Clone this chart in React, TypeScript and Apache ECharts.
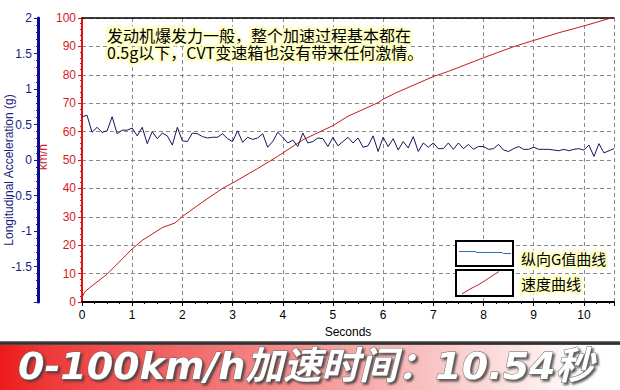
import React, { useEffect, useRef } from "react";
import * as echarts from "echarts";

// G samples every 0.1 s, starting at 0 s (unit: g)
const SAMPLE_STEP = 0.1;
const gValues = [
  0.61, 0.63, 0.39, 0.46, 0.39, 0.41, 0.61, 0.37, 0.42, 0.42,
  0.45, 0.34, 0.46, 0.23, 0.4, 0.3, 0.38, 0.34, 0.21, 0.46,
  0.27, 0.26, 0.38, 0.37, 0.33, 0.31, 0.32, 0.32, 0.37, 0.3,
  0.26, 0.41, 0.25, 0.32, 0.29, 0.31, 0.37, 0.18, 0.26, 0.39,
  0.32, 0.24, 0.28, 0.19, 0.38, 0.24, 0.26, 0.31, 0.3, 0.19,
  0.32, 0.2, 0.26, 0.32, 0.24, 0.31, 0.18, 0.2, 0.34, 0.12,
  0.32, 0.19, 0.3, 0.14, 0.26, 0.17, 0.33, 0.12, 0.24, 0.18,
  0.24, 0.16, 0.16, 0.24, 0.15, 0.24, 0.16, 0.22, 0.15, 0.19,
  0.19, 0.15, 0.16, 0.22, 0.14, 0.12, 0.16, 0.19, 0.15, 0.15,
  0.18, 0.15, 0.15, 0.15, 0.14, 0.13, 0.15, 0.13, 0.15, 0.16,
  0.14, 0.21, 0.05, 0.23, 0.1, 0.13, 0.16,
];

// Speed curve (seconds, km/h)
const speedTimes = [
  0, 0.05, 0.15, 0.5, 1.0, 1.2, 1.6, 1.85, 2.0, 2.4, 2.8, 3.0, 3.5, 3.9, 4.4,
  5.0, 5.3, 5.9, 6.0, 6.25, 7.0, 7.3, 8.0, 8.6, 9.0, 9.5, 10.0, 10.54,
];
const speedValues = [
  1.5, 3.5, 5.0, 9.8, 18.7, 21.7, 26.2, 27.8, 30.1, 35.2, 40.0, 41.9, 47.0,
  51.3, 57.1, 62.1, 65.4, 70.2, 71.4, 73.6, 79.4, 81.2, 86.0, 89.9, 92.1, 94.8,
  97.2, 100,
];

const xMax = 10.6;
const annotationLines = [
  "发动机爆发力一般，整个加速过程基本都在",
  "0.5g以下，CVT变速箱也没有带来任何激情。",
];
const legendLabels = ["纵向G值曲线", "速度曲线"];
const bannerText = "0-100km/h加速时间：10.54秒";
const xName = "Seconds";
const gAxisName = "Longitudinal Acceleration (g)";
const speedAxisName = "km/h";

const RED = "#d41c1c";
const NAVY = "#1c1c80";
const GRID_C = "#8a8a8a";
const LATIN = "'Liberation Sans', Arial, sans-serif";
const CJK = "'Noto Sans CJK SC', sans-serif";

export default function App() {
  const ref = useRef<HTMLDivElement>(null);

  useEffect(() => {
    if (!ref.current) return;
    const chart = echarts.init(ref.current, null, { renderer: "svg" });

    const gData = gValues.map((v, i) => [+(i * SAMPLE_STEP).toFixed(2), v]);
    const sData = speedTimes.map((t, i) => [t, speedValues[i]]);

    const glow = {
      stroke: "rgba(255,255,195,0.95)",
      lineWidth: 5,
      strokeFirst: true,
    };

    chart.setOption({
      animation: false,
      backgroundColor: "#fff",
      grid: { left: 82, right: 6, top: 18, bottom: 88, containLabel: false },
      xAxis: [
        {
          type: "value",
          min: 0,
          max: xMax,
          interval: 1,
          name: xName,
          nameLocation: "middle",
          nameGap: 24,
          nameTextStyle: { color: "#000", fontSize: 12, fontFamily: LATIN },
          axisLine: { show: true, onZero: false, lineStyle: { color: "#000", width: 2 } },
          axisTick: { show: true, length: 4, lineStyle: { color: "#000" } },
          minorTick: { show: true, splitNumber: 4, length: 2, lineStyle: { color: "#000" } },
          axisLabel: {
            color: "#000",
            fontSize: 12,
            fontFamily: LATIN,
            margin: 7,
            formatter: (v: number) => (Number.isInteger(v) ? String(v) : ""),
          },
          splitLine: { show: true, lineStyle: { color: GRID_C, type: [4, 3], width: 1 } },
        },
        {
          type: "value",
          position: "top",
          min: 0,
          max: xMax,
          interval: 1,
          axisLine: { show: true, onZero: false, lineStyle: { color: "#000", width: 1.5 } },
          axisTick: { show: false },
          axisLabel: { show: false },
          splitLine: { show: false },
        },
      ],
      yAxis: [
        {
          type: "value",
          min: 0,
          max: 100,
          interval: 10,
          position: "left",
          axisLine: { show: true, onZero: false, lineStyle: { color: "#e01414", width: 2 } },
          axisTick: { show: true, length: 4, lineStyle: { color: "#e01414" } },
          minorTick: { show: true, splitNumber: 5, length: 2, lineStyle: { color: "#e01414" } },
          axisLabel: { color: RED, fontSize: 12, fontFamily: LATIN, margin: 6 },
          splitLine: { show: true, lineStyle: { color: GRID_C, type: [4, 3], width: 1 } },
        },
        {
          type: "value",
          min: -2,
          max: 2,
          interval: 0.5,
          position: "left",
          offset: 44,
          axisLine: { show: true, onZero: false, lineStyle: { color: "#0a0a90", width: 3 } },
          axisTick: { show: true, length: 4, lineStyle: { color: NAVY } },
          minorTick: { show: true, splitNumber: 5, length: 2, lineStyle: { color: NAVY } },
          axisLabel: {
            color: NAVY,
            fontSize: 12,
            fontFamily: LATIN,
            margin: 6,
            formatter: (v: number) => (v === -2 ? "" : String(v)),
          },
          splitLine: { show: false },
        },
      ],
      series: [
        {
          type: "line",
          name: legendLabels[1],
          xAxisIndex: 0,
          yAxisIndex: 0,
          data: sData,
          showSymbol: false,
          symbol: "none",
          lineStyle: { color: "#c41a1a", width: 1 },
          z: 3,
        },
        {
          type: "line",
          name: legendLabels[0],
          xAxisIndex: 0,
          yAxisIndex: 1,
          data: gData,
          showSymbol: false,
          symbol: "none",
          lineStyle: { color: "#14145e", width: 1 },
          z: 4,
        },
      ],
      graphic: [
        {
          type: "text",
          rotation: Math.PI / 2,
          x: 3,
          y: 170,
          style: {
            text: gAxisName,
            fill: NAVY,
            font: `12px ${LATIN}`,
            align: "center",
            verticalAlign: "top",
          },
        },
        {
          type: "text",
          rotation: Math.PI / 2,
          x: 37,
          y: 157,
          style: {
            text: speedAxisName,
            fill: RED,
            font: `12px ${LATIN}`,
            align: "center",
            verticalAlign: "top",
          },
        },
        {
          type: "text",
          x: 107,
          y: 35,
          z: 10,
          style: {
            text: annotationLines[0],
            fill: "#000",
            font: `16px ${CJK}`,
            lineHeight: 16,
            verticalAlign: "middle",
            ...glow,
          },
        },
        {
          type: "text",
          x: 107,
          y: 52,
          z: 10,
          style: {
            text: annotationLines[1],
            fill: "#000",
            font: `16px ${CJK}`,
            lineHeight: 16,
            verticalAlign: "middle",
            ...glow,
          },
        },
        {
          type: "rect",
          shape: { x: 456, y: 241, width: 57, height: 25 },
          style: { fill: "#fff", stroke: "#000", lineWidth: 2 },
          z: 10,
        },
        {
          type: "polyline",
          shape: {
            points: [
              [459, 251.5], [475, 251.5], [477, 252.5], [502, 252.5], [503.5, 253.5], [511, 253.5],
            ],
          },
          style: { stroke: "#2870b8", lineWidth: 1, fill: null },
          z: 11,
        },
        {
          type: "rect",
          shape: { x: 456, y: 270, width: 57, height: 26 },
          style: { fill: "#fff", stroke: "#000", lineWidth: 2 },
          z: 10,
        },
        {
          type: "polyline",
          shape: {
            points: [
              [462, 294], [470, 289], [478, 285], [486, 280], [492, 276], [499, 271.5],
            ],
          },
          style: { stroke: "#c0202a", lineWidth: 1, fill: null },
          z: 11,
        },
        {
          type: "text",
          x: 521,
          y: 258,
          z: 10,
          style: {
            text: legendLabels[0],
            fill: "#000",
            font: `15px ${CJK}`,
            verticalAlign: "middle",
            ...glow,
          },
        },
        {
          type: "text",
          x: 521,
          y: 283,
          z: 10,
          style: {
            text: legendLabels[1],
            fill: "#000",
            font: `15px ${CJK}`,
            verticalAlign: "middle",
            ...glow,
          },
        },
        {
          type: "rect",
          shape: { x: 0, y: 344, width: 620, height: 46 },
          style: {
            fill: new echarts.graphic.LinearGradient(0, 0, 1, 0, [
              { offset: 0, color: "#ec1a1a" },
              { offset: 0.08, color: "#ef3a3a" },
              { offset: 0.45, color: "#f48a8a" },
              { offset: 0.75, color: "#fad0d0" },
              { offset: 0.95, color: "#ffffff" },
              { offset: 1, color: "#ffffff" },
            ]),
          },
          z: 5,
        },
        {
          type: "rect",
          shape: { x: 0, y: 341, width: 620, height: 4 },
          style: {
            fill: new echarts.graphic.LinearGradient(0, 0, 0, 1, [
              { offset: 0, color: "#888" },
              { offset: 0.5, color: "#222" },
              { offset: 1, color: "#555" },
            ]),
          },
          z: 6,
        },
        {
          type: "text",
          x: 18,
          y: 366,
          z: 7,
          style: {
            text: bannerText,
            fill: "#ffffff",
            font: `italic bold 38px 'DejaVu Sans', 'Noto Sans CJK SC', sans-serif`,
            verticalAlign: "middle",
            stroke: "#6a6a6a",
            lineWidth: 1,
            textShadowColor: "rgba(60,60,60,0.85)",
            textShadowBlur: 2,
            textShadowOffsetX: 2,
            textShadowOffsetY: 2,
          },
        },
      ],
    });

    return () => chart.dispose();
  }, []);

  return (
    <div
      ref={ref}
      style={{ position: "absolute", left: 0, top: 0, width: 620, height: 390 }}
    />
  );
}
